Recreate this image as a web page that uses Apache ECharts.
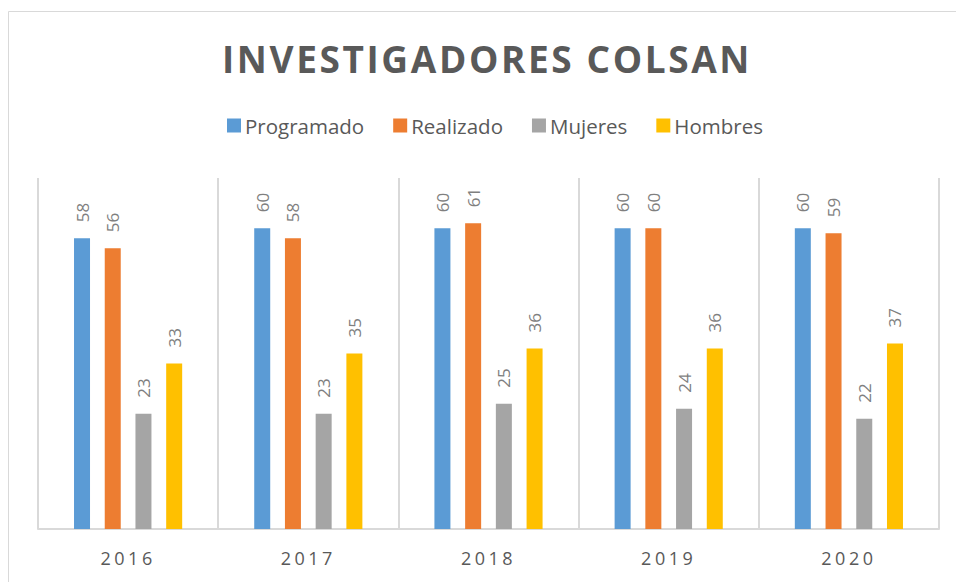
<!DOCTYPE html>
<html>
<head>
<meta charset="utf-8">
<script src="https://cdn.jsdelivr.net/npm/echarts@6/dist/echarts.min.js"></script>
<style>
  html, body { margin: 0; padding: 0; background: #fff; }
  #chart { width: 956px; height: 582px; }
</style>
</head>
<body>
<div id="chart"></div>
<script>
var years = ['2016', '2017', '2018', '2019', '2020'];
var programado = [58, 60, 60, 60, 60];
var realizado = [56, 58, 61, 60, 59];
var mujeres = [23, 23, 25, 24, 22];
var hombres = [33, 35, 36, 36, 37];

var titulo = 'INVESTIGADORES COLSAN';

// svg para poder espaciar las letras del titulo y de los años
var myChart = echarts.init(document.getElementById('chart'), null, { renderer: 'svg' });

// etiquetas giradas encima de cada barra
var barLabel = {
  show: true,
  position: 'top',
  rotate: 90,
  align: 'left',
  verticalAlign: 'middle',
  distance: 16,
  color: '#7f7f7f',
  fontSize: 17,
  fontFamily: 'Open Sans'
};

function makeSeries(name, data, color) {
  return {
    name: name,
    type: 'bar',
    data: data,
    barWidth: 16,
    barGap: '92%',
    itemStyle: { color: color },
    label: barLabel
  };
}

var option = {
  animation: false,
  title: {
    text: titulo,
    left: 'center',
    top: 35,
    textStyle: {
      color: '#595959',
      fontSize: 37,
      fontWeight: 'bold',
      fontFamily: 'Open Sans'
    }
  },
  legend: {
    top: 110,
    left: 222,
    icon: 'rect',
    itemWidth: 14,
    itemHeight: 14,
    itemGap: 29,
    textStyle: {
      color: '#595959',
      fontSize: 20.5,
      fontFamily: 'Open Sans',
      padding: [0, 0, 0, -1]
    }
  },
  grid: {
    left: 38,
    right: 17,
    top: 178,
    bottom: 53
  },
  xAxis: {
    type: 'category',
    data: years,
    axisLine: { lineStyle: { color: '#d9d9d9', width: 2 } },
    axisTick: { show: false },
    splitLine: { show: true, interval: 0, lineStyle: { color: '#d9d9d9', width: 2 } },
    axisLabel: {
      color: '#595959',
      fontSize: 18,
      fontFamily: 'Open Sans',
      margin: 20
    }
  },
  yAxis: {
    type: 'value',
    min: 0,
    max: 70,
    show: false,
    splitLine: { show: false }
  },
  graphic: [{
    type: 'rect',
    shape: { x: 8.5, y: 11.5, width: 960, height: 600 },
    style: { fill: 'none', stroke: '#d9d9d9', lineWidth: 1 },
    silent: true
  }],
  series: [
    makeSeries('Programado', programado, '#5b9bd5'),
    makeSeries('Realizado', realizado, '#ed7d31'),
    makeSeries('Mujeres', mujeres, '#a5a5a5'),
    makeSeries('Hombres', hombres, '#ffc000')
  ]
};

myChart.setOption(option);

// espaciado de letras como en el original
var textos = document.querySelectorAll('#chart svg text');
for (var i = 0; i < textos.length; i++) {
  var t = textos[i].textContent;
  if (t === titulo) {
    textos[i].setAttribute('letter-spacing', '2.6');
    textos[i].setAttribute('dx', '9'); // el marco del original esta corrido a la derecha
  } else if (years.indexOf(t) >= 0) {
    textos[i].setAttribute('letter-spacing', '3.5');
  }
}
</script>
</body>
</html>
